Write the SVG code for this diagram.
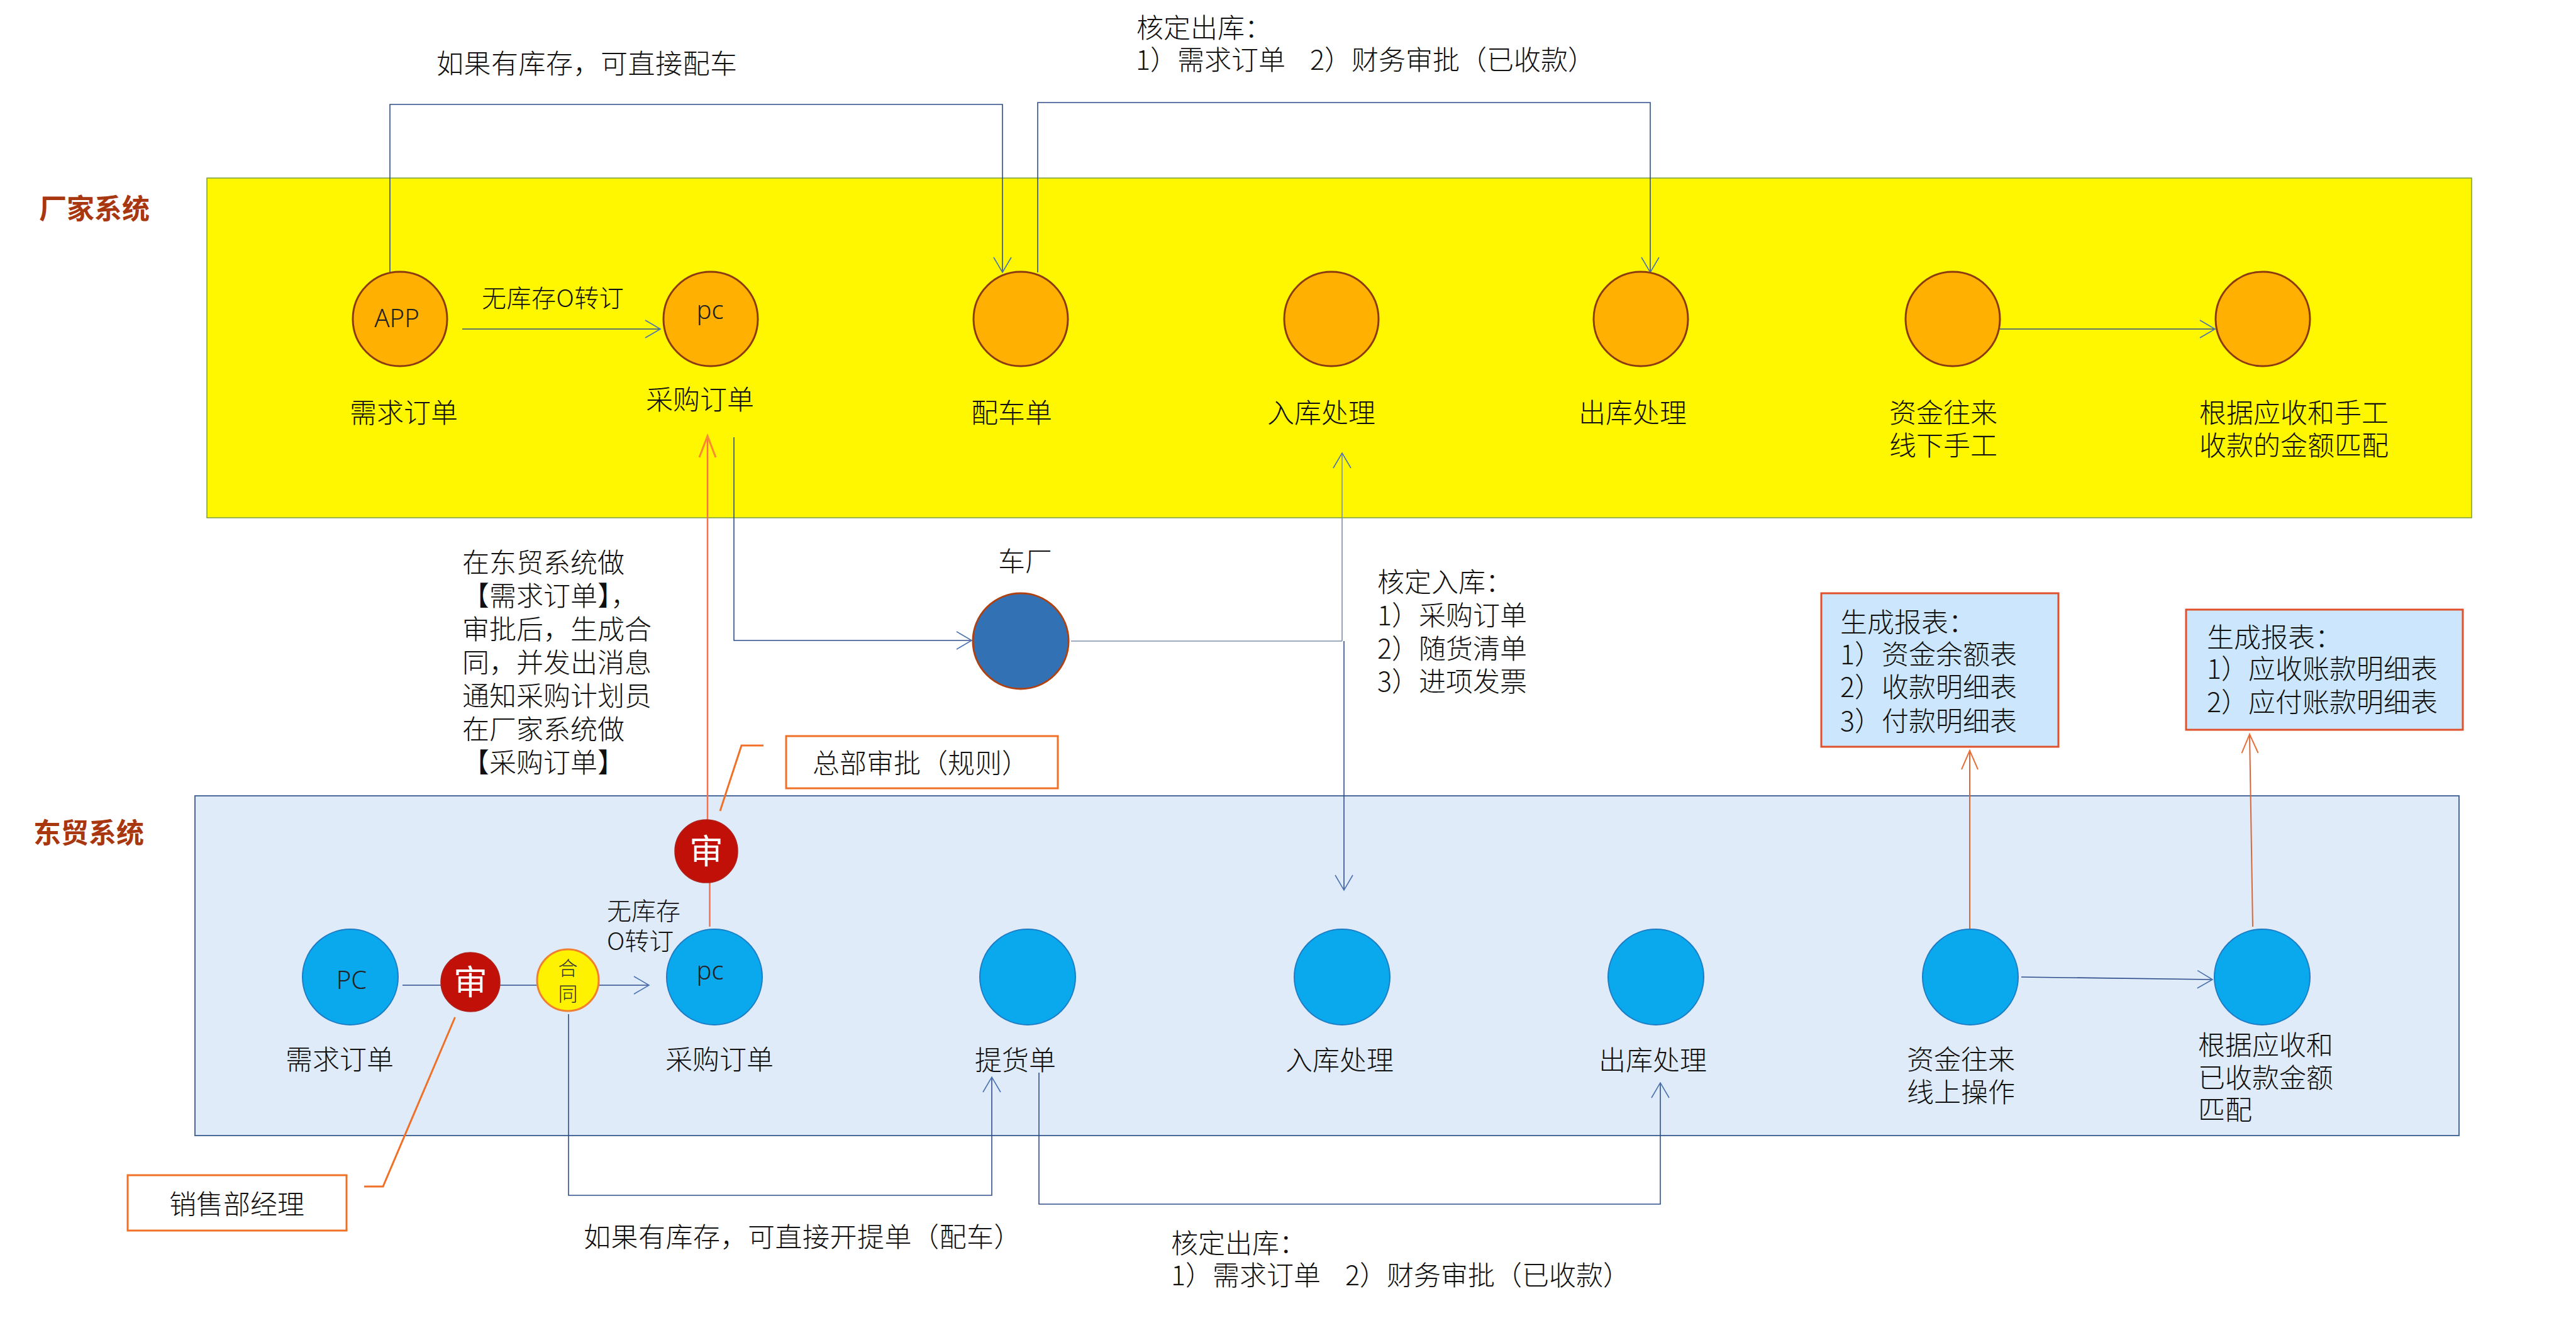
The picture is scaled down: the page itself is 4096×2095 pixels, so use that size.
<svg xmlns="http://www.w3.org/2000/svg" width="4096" height="2095" viewBox="0 0 4096 2095">
<style>
text{font-family:"Noto Sans CJK SC","Noto Sans",sans-serif;font-size:43px;font-weight:300;fill:#101010;white-space:pre}
.title{font-weight:700;fill:#a8360f;font-size:44px}
.lat{font-family:"Noto Sans",sans-serif;font-size:40px;text-anchor:middle;fill:#222}
.sm{font-size:39px}
.wh{fill:#fff;font-size:54px;text-anchor:middle;font-weight:400}
.he{font-size:31px;text-anchor:middle;fill:#333}
.sp{word-spacing:10px}
.ls{letter-spacing:.5px}
.o{fill:#ffb000;stroke:#8c3a10;stroke-width:3}
.b{fill:#0aa8ec;stroke:#1c7cc6;stroke-width:2}
.r{fill:#c01008;stroke:#b0201a;stroke-width:1.5}
.l{fill:none;stroke:#2f4e8c;stroke-width:1.600}
.ll{fill:none;stroke:#7b8fae;stroke-width:1.600}
.or{fill:none;stroke:#d8683a;stroke-width:2}
.cal{fill:none;stroke:#f07028;stroke-width:3}
.box{fill:#fff;stroke:#f07028;stroke-width:3}
.rep{fill:#cce7fd;stroke:#e0502a;stroke-width:3}
</style>
<defs>
<marker id="aB" markerUnits="userSpaceOnUse" overflow="visible" orient="auto" markerWidth="30" markerHeight="34"><path d="M-24,-14 L0,0 L-24,14" fill="none" stroke="#4a72b0" stroke-width="1.600"/></marker>
<marker id="aO" markerUnits="userSpaceOnUse" overflow="visible" orient="auto" markerWidth="30" markerHeight="34"><path d="M-30,-13 L0,0 L-30,13" fill="none" stroke="#e8703a" stroke-width="2"/></marker>
<marker id="aY" markerUnits="userSpaceOnUse" overflow="visible" orient="auto" markerWidth="30" markerHeight="34"><path d="M-34,-13 L0,0 L-34,13" fill="none" stroke="#f98a30" stroke-width="3"/></marker>
</defs>
<rect width="4096" height="2095" fill="#fff"/>
<g id="panels">
<rect id="panel-factory" x="329" y="283" width="3601" height="540" fill="#fff700" stroke="#7a9a40" stroke-width="1.500"/>
<rect id="panel-dongmao" x="310" y="1265" width="3600" height="540" fill="#dfebf9" stroke="#4a6a9c" stroke-width="2"/>
<text class="title" x="62" y="348">厂家系统</text>
<text class="title" x="53" y="1340">东贸系统</text>
</g>
<g id="connectors">
<path class="l" d="M620,433V166H1594V433" marker-end="url(#aB)"/>
<path class="l" d="M1650,433V163H2624V433" marker-end="url(#aB)"/>
<path class="l" d="M735,523H1050" marker-end="url(#aB)"/>
<path class="l" d="M3180,523H3522" marker-end="url(#aB)"/>
<path d="M1125,1303V693" fill="none" stroke="#f8704c" stroke-width="2.500" marker-end="url(#aY)"/>
<path d="M1128.500,1402V1473" fill="none" stroke="#f8704c" stroke-width="2.500"/>
<path class="l" d="M1167,695V1018H1545" marker-end="url(#aB)"/>
<path class="ll" d="M1703,1019H2134"/>
<path class="ll" d="M2134,1019V720" marker-end="url(#aB)"/>
<path class="l" d="M2137,1019V1415" marker-end="url(#aB)"/>
<path class="or" d="M3132,1476V1193" marker-end="url(#aO)"/>
<path class="or" d="M3582,1473L3577,1167" marker-end="url(#aO)"/>
<path class="l" d="M640,1566H1032" marker-end="url(#aB)"/>
<path class="l" d="M904,1612V1900H1577V1712" marker-end="url(#aB)"/>
<path class="l" d="M1652,1705V1914H2640V1721" marker-end="url(#aB)"/>
<path class="l" d="M3214,1553L3518,1557" marker-end="url(#aB)"/>
<path class="cal" d="M579,1886H609L723.500,1617"/>
<path class="cal" d="M1145,1289L1179,1185H1214"/>
</g>
<g id="n-f1"><circle class="o" cx="636" cy="507" r="75"/><text class="lat" x="631" y="520">APP</text><text x="556" y="672">需求订单</text></g>
<g id="n-f2"><circle class="o" cx="1130" cy="507" r="75"/><text class="lat" x="1129" y="507">pc</text><text x="1027" y="651">采购订单</text></g>
<g id="n-f3"><circle class="o" cx="1623" cy="507" r="75"/><text x="1544" y="672">配车单</text></g>
<g id="n-f4"><circle class="o" cx="2117" cy="507" r="75"/><text x="2015" y="672">入库处理</text></g>
<g id="n-f5"><circle class="o" cx="2609" cy="507" r="75"/><text x="2510" y="672">出库处理</text></g>
<g id="n-f6"><circle class="o" cx="3105" cy="507" r="75"/><text><tspan x="3004" y="672">资金往来</tspan><tspan x="3004" y="724">线下手工</tspan></text></g>
<g id="n-f7"><circle class="o" cx="3598" cy="507" r="75"/><text><tspan x="3497" y="672">根据应收和手工</tspan><tspan x="3497" y="724">收款的金额匹配</tspan></text></g>
<g id="n-car"><circle cx="1623" cy="1019" r="76" fill="#3272b4" stroke="#b04010" stroke-width="3"/><text x="1587" y="908">车厂</text></g>
<g id="n-d1"><circle class="b" cx="557" cy="1553" r="76"/><text class="lat" x="559" y="1572">PC</text><text x="454" y="1700">需求订单</text></g>
<g id="n-approve1"><ellipse class="r" cx="748" cy="1561" rx="47" ry="47"/><text class="wh" x="748" y="1581">审</text></g>
<g id="n-contract"><circle cx="903" cy="1558" r="49" fill="#fff200" stroke="#f08030" stroke-width="3"/><text class="he"><tspan x="903" y="1550">合</tspan><tspan x="903" y="1591">同</tspan></text></g>
<g id="n-d2"><circle class="b" cx="1136" cy="1553" r="76"/><text class="lat" x="1129" y="1557">pc</text><text x="1058" y="1700">采购订单</text></g>
<g id="n-approve2"><circle class="r" cx="1123" cy="1353" r="50"/><text class="wh" x="1123" y="1373">审</text></g>
<g id="n-d3"><circle class="b" cx="1634" cy="1553" r="76"/><text x="1550" y="1701">提货单</text></g>
<g id="n-d4"><circle class="b" cx="2134" cy="1553" r="76"/><text x="2044" y="1701">入库处理</text></g>
<g id="n-d5"><circle class="b" cx="2633" cy="1553" r="76"/><text x="2542" y="1701">出库处理</text></g>
<g id="n-d6"><circle class="b" cx="3133" cy="1553" r="76"/><text><tspan x="3032" y="1700">资金往来</tspan><tspan x="3032" y="1752">线上操作</tspan></text></g>
<g id="n-d7"><circle class="b" cx="3597" cy="1553" r="76"/><text><tspan x="3495" y="1677">根据应收和</tspan><tspan x="3495" y="1729">已收款金额</tspan><tspan x="3495" y="1780">匹配</tspan></text></g>
<g id="n-report1"><rect class="rep" x="2896" y="943" width="377" height="244"/><text><tspan x="2926" y="1005">生成报表：</tspan><tspan x="2926" y="1056">1）资金余额表</tspan><tspan x="2926" y="1108">2）收款明细表</tspan><tspan x="2926" y="1162">3）付款明细表</tspan></text></g>
<g id="n-report2"><rect class="rep" x="3476" y="969" width="440" height="191"/><text><tspan x="3509" y="1029">生成报表：</tspan><tspan x="3509" y="1079">1）应收账款明细表</tspan><tspan x="3509" y="1132">2）应付账款明细表</tspan></text></g>
<g id="n-sales"><rect class="box" x="203" y="1868" width="348" height="88"/><text x="269" y="1930">销售部经理</text></g>
<g id="n-hq"><rect class="box" x="1250" y="1170" width="432" height="83"/><text x="1292" y="1229">总部审批（规则）</text></g>
<g id="labels">
<text class="ls" x="694" y="117">如果有库存，可直接配车</text>
<text class="sp"><tspan x="1807" y="60">核定出库：</tspan><tspan x="1806" y="111">1）需求订单  2）财务审批（已收款）</tspan></text>
<text class="sm" x="766" y="488" style="letter-spacing:.5px">无库存O转订</text>
<text><tspan x="735" y="910">在东贸系统做</tspan><tspan x="735" y="963">【需求订单】，</tspan><tspan x="735" y="1016">审批后，生成合</tspan><tspan x="735" y="1069">同，并发出消息</tspan><tspan x="735" y="1122">通知采购计划员</tspan><tspan x="735" y="1175">在厂家系统做</tspan><tspan x="735" y="1228">【采购订单】</tspan></text>
<text><tspan x="2190" y="941">核定入库：</tspan><tspan x="2190" y="994">1）采购订单</tspan><tspan x="2190" y="1047">2）随货清单</tspan><tspan x="2190" y="1099">3）进项发票</tspan></text>
<text class="sm"><tspan x="965" y="1462">无库存</tspan><tspan x="965" y="1510">O转订</tspan></text>
<text class="ls" x="928" y="1982">如果有库存，可直接开提单（配车）</text>
<text class="sp"><tspan x="1862" y="1992">核定出库：</tspan><tspan x="1862" y="2043">1）需求订单  2）财务审批（已收款）</tspan></text>
</g>
</svg>
